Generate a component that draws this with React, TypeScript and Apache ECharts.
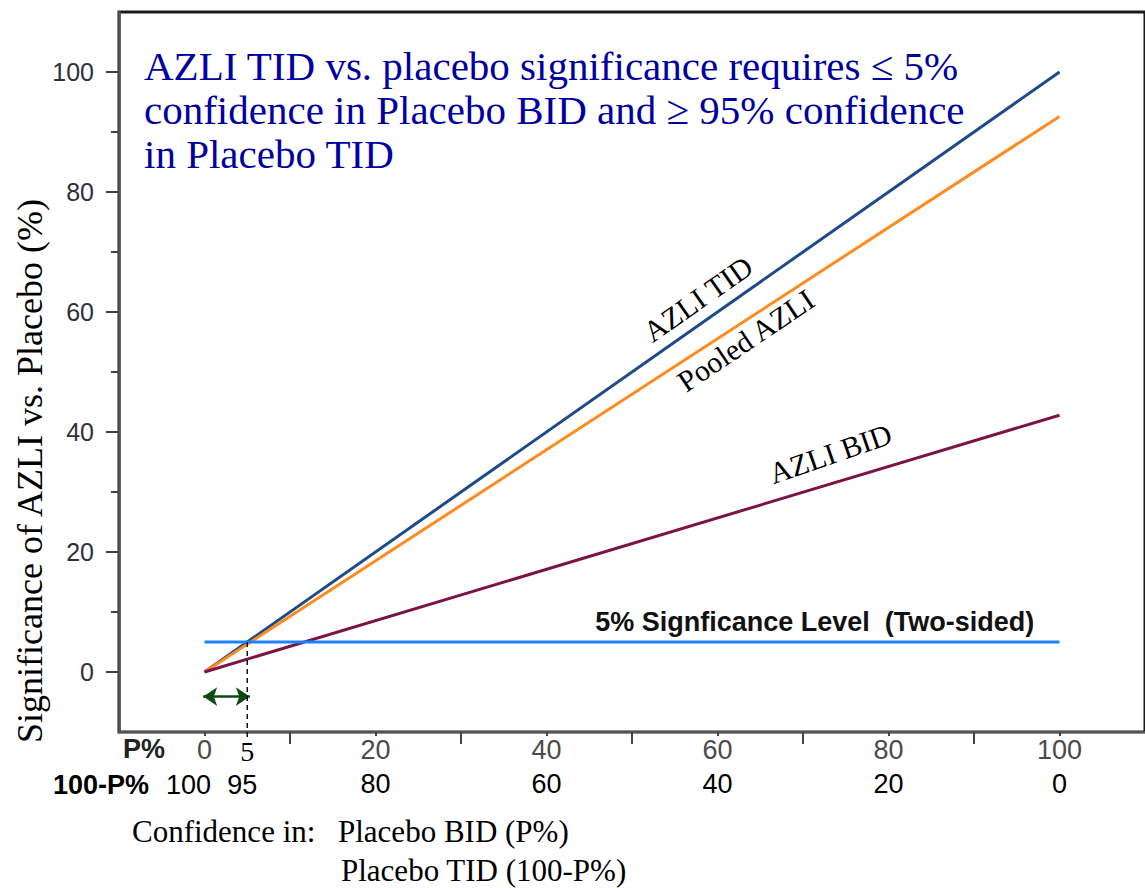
import React, { useEffect, useRef } from "react";
import * as echarts from "echarts";

// Confidence in Placebo BID (P%) along the x axis; significance (%) on y.
const pValues = [0, 100];
const tidValues = [0, 100];
const pooledValues = [0, 92.6];
const bidValues = [0, 42.8];

const sigLevel = 5;
const sigSpan = [0, 100];
const cutoffP = 5;
const cutoffBottom = -11.5;

const yLabelValues = [0, 20, 40, 60, 80, 100];
const yMinorTickValues = [10, 30, 50, 70, 90];
const xLabelValues = [0, 20, 40, 60, 80, 100];
const xLongTickValues = [10, 30, 50, 70, 90];

// double arrow under the 0..5 band
const arrowFrom = [-0.15, -4.1];
const arrowTo = [5.3, -4.1];

const titleLines = [
  "AZLI TID vs. placebo significance requires \u2264 5%",
  "confidence in Placebo BID and \u2265 95% confidence",
  "in Placebo TID",
];

// line annotations: [text, P, significance, angle in degrees]
const lineNotes: [string, number, number, number][] = [
  ["AZLI TID", 57.7, 62.2, 35],
  ["Pooled AZLI", 63.3, 55.3, 34],
  ["AZLI BID", 73.2, 36.4, 19],
];

const SERIF = "'Liberation Serif', 'Times New Roman', serif";
const SANS = "'Liberation Sans', Arial, sans-serif";

export default function App() {
  const ref = useRef<HTMLDivElement>(null);

  useEffect(() => {
    if (!ref.current) return;
    const chart = echarts.init(ref.current, undefined, { renderer: "svg" });

    const lineSeries = (name: string, ys: number[], color: string) => ({
      name,
      type: "line",
      data: pValues.map((p, i) => [p, ys[i]]),
      symbol: "none",
      lineStyle: { color, width: 3 },
      z: 3,
    });

    chart.setOption({
      animation: false,
      backgroundColor: "#fff",
      grid: {
        left: 119,
        top: 12,
        width: 1031,
        height: 720,
        show: true,
        borderColor: "#1a1a1a",
        borderWidth: 3,
        backgroundColor: "transparent",
      },
      xAxis: [
        {
          type: "value",
          min: -10,
          max: 110,
          axisLine: { onZero: false, lineStyle: { color: "#555", width: 2 } },
          axisTick: { customValues: xLabelValues, length: 6, lineStyle: { color: "#444", width: 2 } },
          axisLabel: {
            customValues: xLabelValues,
            fontFamily: SANS,
            fontSize: 27,
            color: "#4a4a4a",
            margin: 4,
            backgroundColor: "#fff",
            padding: [0, 2],
            formatter: (v: number) => String(v),
          },
          splitLine: { show: false },
        },
        {
          type: "value",
          min: -10,
          max: 110,
          position: "bottom",
          axisLine: { show: false, onZero: false },
          axisTick: { customValues: xLongTickValues, length: 12, lineStyle: { color: "#444", width: 2 } },
          axisLabel: { show: false },
          splitLine: { show: false },
        },
        {
          type: "value",
          min: -10,
          max: 110,
          position: "bottom",
          offset: 36,
          axisLine: { show: false, onZero: false },
          axisTick: { show: false },
          axisLabel: {
            customValues: xLabelValues.filter((v) => v > cutoffP),
            fontFamily: SANS,
            fontSize: 27,
            color: "#000",
            margin: 2,
            formatter: (v: number) => String(100 - v),
          },
          splitLine: { show: false },
        },
      ],
      yAxis: [
        {
          type: "value",
          min: -10,
          max: 110,
          axisLine: { onZero: false, lineStyle: { color: "#555", width: 2.5 } },
          axisTick: { customValues: yLabelValues, length: 13, lineStyle: { color: "#444", width: 2 } },
          axisLabel: {
            customValues: yLabelValues,
            fontFamily: SANS,
            fontSize: 25,
            color: "#2f2f38",
            margin: 25,
          },
          splitLine: { show: false },
        },
        {
          type: "value",
          min: -10,
          max: 110,
          position: "left",
          axisLine: { show: false, onZero: false },
          axisTick: { customValues: yMinorTickValues, length: 8, lineStyle: { color: "#444", width: 2 } },
          axisLabel: { show: false },
          splitLine: { show: false },
        },
      ],
      series: [
        lineSeries("AZLI TID", tidValues, "#1d4a8a"),
        lineSeries("Pooled AZLI", pooledValues, "#ff8b1e"),
        lineSeries("AZLI BID", bidValues, "#7a1444"),
        {
          name: "5% Signficance Level",
          type: "line",
          data: sigSpan.map((p) => [p, sigLevel]),
          symbol: "none",
          lineStyle: { color: "#1d82ff", width: 3 },
          z: 4,
        },
        {
          name: "cutoff",
          type: "line",
          data: [
            [cutoffP, sigLevel],
            [cutoffP, cutoffBottom],
          ],
          clip: false,
          symbol: "none",
          lineStyle: { color: "#111", width: 1.5, type: [5, 4] },
          z: 5,
          markLine: {
            silent: true,
            symbol: ["arrow", "arrow"],
            symbolSize: [14, 14],
            label: { show: false },
            lineStyle: { color: "#0d4a14", width: 2.5, type: "solid" },
            data: [[{ coord: arrowFrom }, { coord: arrowTo }]],
          },
        },
      ],
    });

    const px = (x: number, y: number) =>
      chart.convertToPixel({ xAxisIndex: 0, yAxisIndex: 0 }, [x, y]) as number[];

    const zeroPx = px(0, 0);
    const cutPx = px(cutoffP, 0);
    const sigLabelPx = px(45.7, 8.4);

    const graphics: any[] = [
      {
        type: "text",
        left: 144,
        top: 44,
        style: {
          text: titleLines.join("\n"),
          font: `41px ${SERIF}`,
          fill: "#0000a0",
          lineHeight: 44,
        },
      },
      {
        type: "text",
        x: 30,
        y: 471,
        rotation: Math.PI / 2,
        style: {
          text: "Significance of AZLI vs. Placebo (%)",
          font: `36px ${SERIF}`,
          fill: "#000",
          align: "center",
          verticalAlign: "middle",
        },
      },
      {
        type: "text",
        x: sigLabelPx[0],
        y: sigLabelPx[1],
        style: {
          text: "5% Signficance Level  (Two-sided)",
          font: `bold 27px ${SANS}`,
          fill: "#111",
          align: "left",
          verticalAlign: "middle",
        },
      },
      {
        type: "text",
        x: 144,
        y: 749,
        style: {
          text: "P%",
          font: `bold 27px ${SANS}`,
          fill: "#222",
          align: "center",
          verticalAlign: "middle",
        },
      },
      {
        type: "text",
        x: 101,
        y: 785,
        style: {
          text: "100-P%",
          font: `bold 27px ${SANS}`,
          fill: "#000",
          align: "center",
          verticalAlign: "middle",
        },
      },
      {
        type: "text",
        x: cutPx[0],
        y: 751,
        style: {
          text: String(cutoffP),
          font: `28px ${SERIF}`,
          fill: "#000",
          align: "center",
          verticalAlign: "middle",
        },
      },
      {
        type: "text",
        x: zeroPx[0] - 16,
        y: 785,
        style: {
          text: String(100 - pValues[0]),
          font: `27px ${SANS}`,
          fill: "#000",
          align: "center",
          verticalAlign: "middle",
        },
      },
      {
        type: "text",
        x: cutPx[0] - 5,
        y: 785,
        style: {
          text: String(100 - cutoffP),
          font: `27px ${SANS}`,
          fill: "#000",
          align: "center",
          verticalAlign: "middle",
        },
      },
      {
        type: "text",
        left: 132,
        top: 816,
        style: { text: "Confidence in:", font: `31px ${SERIF}`, fill: "#000" },
      },
      {
        type: "text",
        left: 338,
        top: 816,
        style: { text: "Placebo BID (P%)", font: `31px ${SERIF}`, fill: "#000" },
      },
      {
        type: "text",
        left: 341,
        top: 855,
        style: { text: "Placebo TID (100-P%)", font: `31px ${SERIF}`, fill: "#000" },
      },
      ...lineNotes.map(([text, x, y, deg]) => {
        const p = px(x, y);
        return {
          type: "text",
          x: p[0],
          y: p[1],
          rotation: (deg * Math.PI) / 180,
          style: {
            text,
            font: `30px ${SERIF}`,
            fill: "#000",
            align: "center",
            verticalAlign: "middle",
          },
        };
      }),
    ];

    chart.setOption({ graphic: graphics });

    return () => chart.dispose();
  }, []);

  return (
    <div
      ref={ref}
      style={{ position: "fixed", left: 0, top: 0, width: 1145, height: 888, background: "#fff" }}
    />
  );
}
